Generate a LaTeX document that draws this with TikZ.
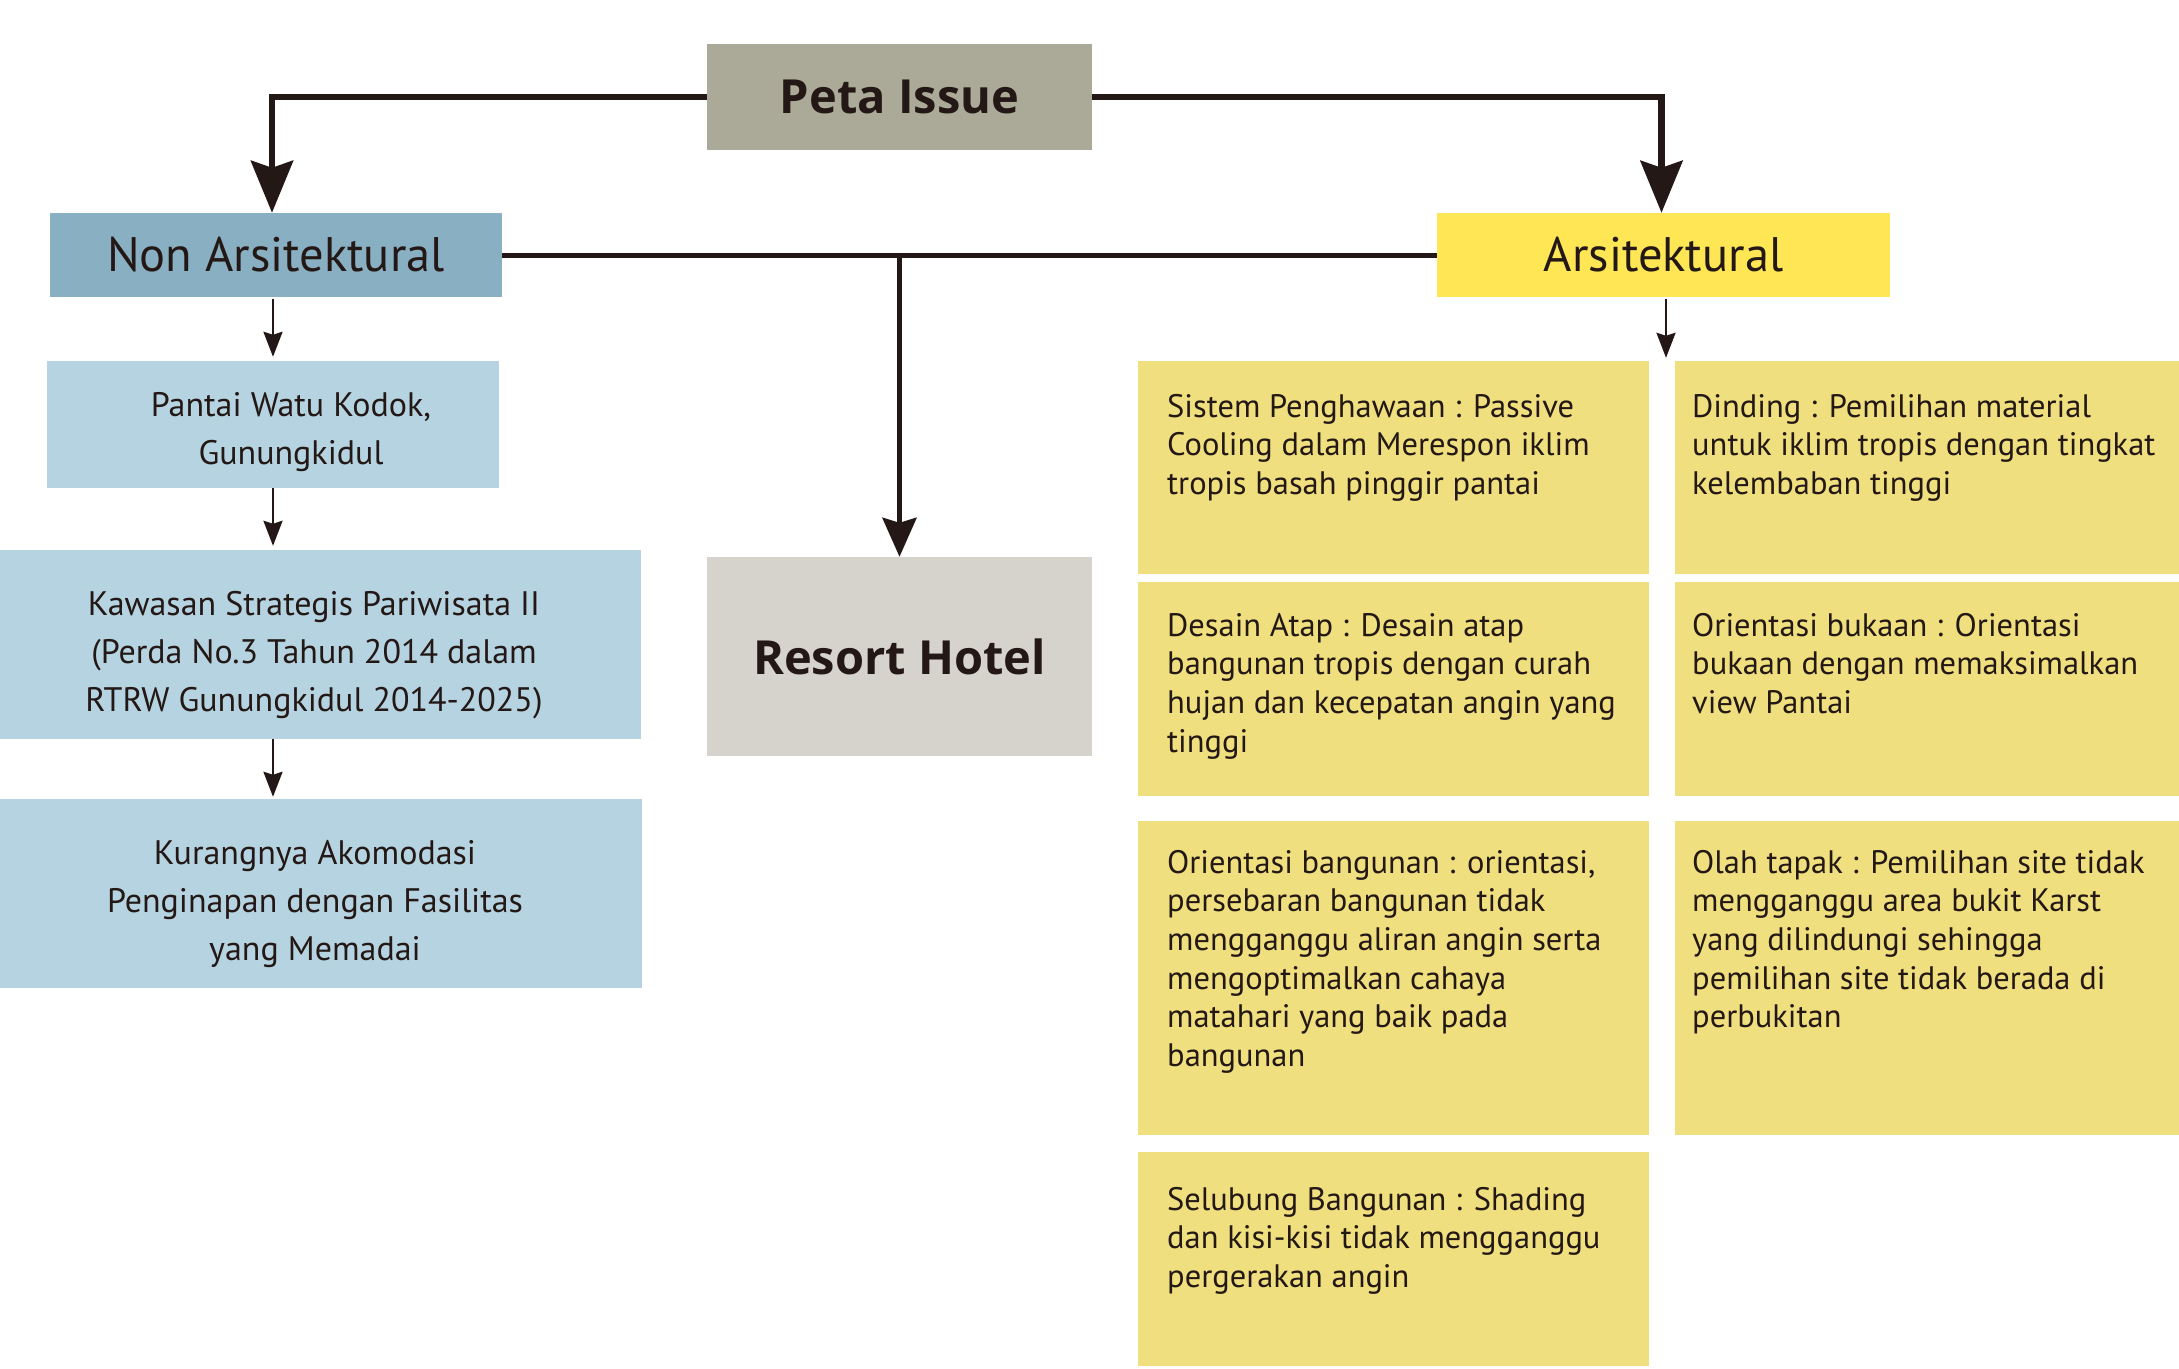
\documentclass[tikz,border=0pt]{standalone}
\usepackage{fontspec}
\setmainfont{PT Sans}
\newfontfamily\titlefont{Open Sans}
\usetikzlibrary{arrows.meta}
\definecolor{ink}{HTML}{231815}
\definecolor{petac}{HTML}{ABAA98}
\definecolor{nonc}{HTML}{89AFC2}
\definecolor{arsc}{HTML}{FEE655}
\definecolor{lblue}{HTML}{B5D3E0}
\definecolor{resc}{HTML}{D6D3CC}
\definecolor{ylw}{HTML}{EFDF7E}
\begin{document}
\begin{tikzpicture}[x=1pt,y=-1pt,
  box/.style={rectangle,draw=none,inner sep=0pt,text=ink},
  bigtitle/.style={font=\titlefont\fontsize{47}{50}\selectfont\bfseries},
  midtitle/.style={font=\fontsize{48.5}{50}\selectfont},
  bodytxt/.style={inner sep=0pt,text=ink,font=\fontsize{32.5}{38.7}\selectfont,align=left,anchor=base west},
  lefttxt/.style={inner sep=0pt,text=ink,font=\fontsize{34}{48}\selectfont,align=center,anchor=base},
  bigarrow/.style={draw=ink,line width=6.5pt,-{Stealth[length=52pt,width=42pt,inset=7pt]}},
  midline/.style={draw=ink,line width=5pt},
  midarrow/.style={draw=ink,line width=5pt,-{Stealth[length=39pt,width=34pt,inset=5pt]}},
  smallarrow/.style={draw=ink,line width=2.5pt,-{Stealth[length=25pt,width=19pt,inset=3pt]}}
]
\useasboundingbox (0,0) rectangle (2179,1368);
\fill[white] (0,0) rectangle (2179,1368);

% boxes
\node[box,fill=petac,minimum width=385pt,minimum height=106pt,bigtitle] (peta) at (899.5,97) {Peta Issue};
\node[box,fill=nonc,minimum width=452pt,minimum height=84pt,midtitle] (non) at (276,255) {Non Arsitektural};
\node[box,fill=arsc,minimum width=453pt,minimum height=84pt,midtitle] (arsit) at (1663.5,255) {Arsitektural};
\node[box,fill=resc,minimum width=385pt,minimum height=199pt,bigtitle] (resort) at (899.5,656.5) {Resort Hotel};

\node[box,fill=lblue,minimum width=452pt,minimum height=127pt] (pantai) at (273,424.5) {};
\node[box,fill=lblue,minimum width=641pt,minimum height=189pt] (kawasan) at (320.5,644.5) {};
\node[box,fill=lblue,minimum width=642pt,minimum height=189pt] (kurang) at (321,893.5) {};

\node[box,fill=ylw,minimum width=511pt,minimum height=213pt] (y11) at (1393.5,467.5) {};
\node[box,fill=ylw,minimum width=504pt,minimum height=213pt] (y12) at (1927,467.5) {};
\node[box,fill=ylw,minimum width=511pt,minimum height=214pt] (y21) at (1393.5,689) {};
\node[box,fill=ylw,minimum width=504pt,minimum height=214pt] (y22) at (1927,689) {};
\node[box,fill=ylw,minimum width=511pt,minimum height=314pt] (y31) at (1393.5,978) {};
\node[box,fill=ylw,minimum width=504pt,minimum height=314pt] (y32) at (1927,978) {};
\node[box,fill=ylw,minimum width=511pt,minimum height=214pt] (y41) at (1393.5,1259) {};

% left texts (anchor base = baseline of last line)
\node[lefttxt] (tpantai) at (291,464) {Pantai Watu Kodok,\\Gunungkidul};
\node[lefttxt] (tkawasan) at (314,711) {Kawasan Strategis Pariwisata II\\(Perda No.3 Tahun 2014 dalam\\RTRW Gunungkidul 2014-2025)};
\node[lefttxt] (tkurang) at (315,960) {Kurangnya Akomodasi\\Penginapan dengan Fasilitas\\yang Memadai};

% yellow texts (anchor base = baseline of last line)
\node[bodytxt] (t11) at (1167,494.4) {Sistem Penghawaan : Passive\\Cooling dalam Merespon iklim\\tropis basah pinggir pantai};
\node[bodytxt] (t12) at (1692,494.4) {Dinding : Pemilihan material\\untuk iklim tropis dengan tingkat\\kelembaban tinggi};
\node[bodytxt] (t21) at (1167,752.1) {Desain Atap : Desain atap\\bangunan tropis dengan curah\\hujan dan kecepatan angin yang\\tinggi};
\node[bodytxt] (t22) at (1692,713.4) {Orientasi bukaan : Orientasi\\bukaan dengan memaksimalkan\\view Pantai};
\node[bodytxt] (t31) at (1167,1066.5) {Orientasi bangunan : orientasi,\\persebaran bangunan tidak\\mengganggu aliran angin serta\\mengoptimalkan cahaya\\matahari yang baik pada\\bangunan};
\node[bodytxt] (t32) at (1692,1027.8) {Olah tapak : Pemilihan site tidak\\mengganggu area bukit Karst\\yang dilindungi sehingga\\pemilihan site tidak berada di\\perbukitan};
\node[bodytxt] (t41) at (1167,1287.4) {Selubung Bangunan : Shading\\dan kisi-kisi tidak mengganggu\\pergerakan angin};

% connectors
\draw[bigarrow] (peta.west) -| ([xshift=-4pt]non.north);
\draw[bigarrow] (peta.east) -| ([xshift=-2pt]arsit.north);
\draw[midline] (non.east) -- (arsit.west);
\draw[midarrow] (non.east -| resort.north) -- (resort.north);
\draw[smallarrow] ([xshift=-3pt,yshift=-2pt]non.south) -- ([yshift=4pt]pantai.north);
\draw[smallarrow] (pantai.south) -- ([yshift=4pt]kawasan.north -| pantai.south);
\draw[smallarrow] (kawasan.south -| pantai.south) -- ([yshift=2pt]kurang.north -| pantai.south);
\draw[smallarrow] ([xshift=2.5pt,yshift=-2pt]arsit.south) -- ([xshift=2.5pt,yshift=3pt]arsit.south |- y11.north);
\end{tikzpicture}
\end{document}
